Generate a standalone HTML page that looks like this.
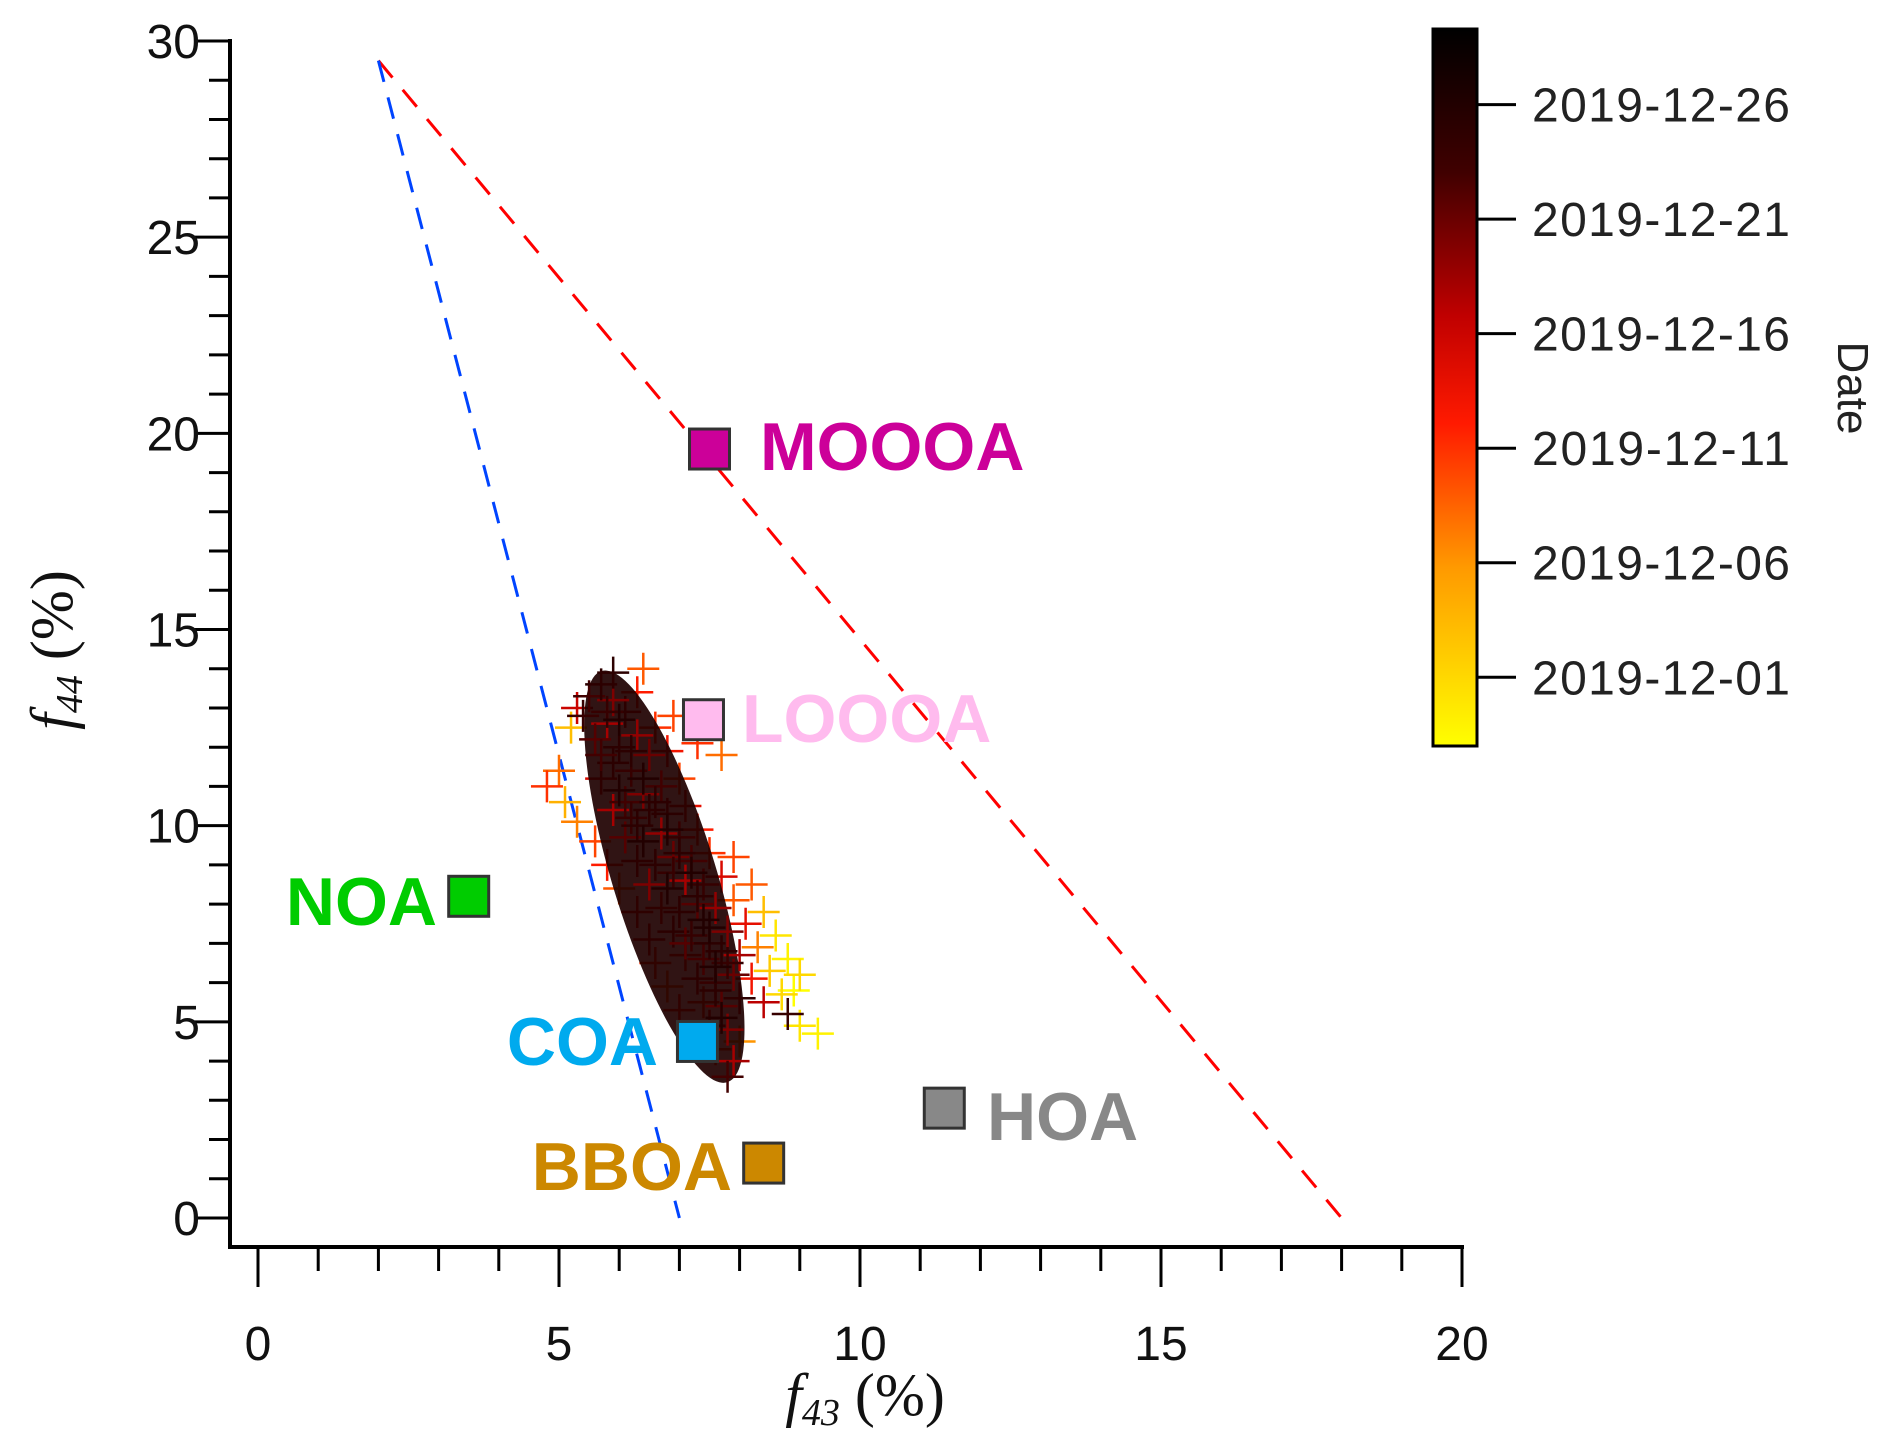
<!DOCTYPE html>
<html><head><meta charset="utf-8"><style>
html,body{margin:0;padding:0;background:#fff}
svg{display:block;font-family:"Liberation Sans",sans-serif}
</style></head><body>
<svg id="chart" width="1892" height="1455" viewBox="0 0 1892 1455" xmlns="http://www.w3.org/2000/svg">
<defs>
<linearGradient id="cmap" x1="0" y1="1" x2="0" y2="0">
<stop offset="0" stop-color="#ffff00"/><stop offset="0.25" stop-color="#ff9900"/><stop offset="0.45" stop-color="#ff1a00"/><stop offset="0.6" stop-color="#c00000"/><stop offset="0.8" stop-color="#400000"/><stop offset="1" stop-color="#000000"/>
</linearGradient>
</defs>
<g id="plot"></g>
</svg>
<script>
const xTicks=[0,5,10,15,20];
const yTicks=[0,5,10,15,20,25,30];
const dateTicks=['2019-12-01','2019-12-06','2019-12-11','2019-12-16','2019-12-21','2019-12-26'];
const dateTickDays=[3,8,13,18,23,28];
const dateMin=0, dateMax=31.3;
const sourceNames=['MOOOA','LOOOA','NOA','COA','BBOA','HOA'];
const sourceX=[7.5,7.4,3.5,7.3,8.4,11.4];
const sourceY=[19.6,12.7,8.2,4.5,1.4,2.8];
const sourceColors=['#cc0099','#ffbbee','#00cc00','#00aaee','#cc8800','#888888'];
const redLineX=[2,18], redLineY=[29.5,0];
const blueLineX=[2,7], blueLineY=[29.5,0];
const ptX=[5.5,5.7,5.9,5.4,5.8,6.1,6.3,5.6,6.0,6.3,6.6,5.9,6.2,6.5,6.8,5.7,6.0,6.4,6.7,7.0,5.9,6.2,6.5,6.8,7.1,6.1,6.4,6.7,7.0,7.3,6.3,6.6,6.9,7.2,7.5,6.5,6.8,7.1,7.4,7.7,6.7,7.0,7.3,7.6,7.9,6.9,7.2,7.5,7.8,8.1,7.1,7.4,7.7,8.0,8.3,7.3,7.6,7.9,8.2,8.5,7.4,7.7,8.0,8.4,8.7,7.5,7.8,8.8,9.0,9.3,7.6,7.9,7.8,8.0,5.0,4.8,5.1,5.3,5.6,5.8,6.0,6.3,6.5,6.6,6.8,7.0,8.6,8.8,9.0,8.9,8.4,8.2,7.9,7.7,7.3,6.9,5.2,5.3,5.9,6.4,6.0,6.2,6.4,6.6,6.8,7.0,7.2,7.3,7.4,7.5,7.6,7.6,7.7,5.8,6.1,6.9,7.1,6.3,7.8,5.7];
const ptY=[13.3,13.6,13.2,12.8,12.6,12.9,13.4,12.2,12.0,12.3,12.5,11.6,11.4,11.8,11.9,11.2,10.9,10.8,11.0,11.2,10.4,10.2,10.4,10.3,10.5,9.7,9.6,9.8,9.7,9.9,9.1,9.0,9.2,9.1,9.3,8.5,8.4,8.6,8.5,8.7,7.9,7.8,8.0,7.9,8.1,7.3,7.2,7.4,7.3,7.5,6.7,6.6,6.8,6.7,6.9,6.1,6.0,6.2,6.1,6.3,5.5,5.4,5.6,5.5,5.7,4.9,4.8,5.2,4.9,4.7,4.3,4.0,3.6,4.5,11.4,11.0,10.6,10.1,9.6,9.0,8.4,7.8,7.1,6.5,5.9,5.3,7.2,6.6,6.2,5.8,7.8,8.5,9.2,11.8,12.1,12.8,12.5,13.0,13.9,14.0,12.7,11.9,11.2,10.6,9.9,9.3,8.8,8.2,7.6,7.0,6.4,5.8,5.1,12.9,10.6,8.8,7.0,10.0,6.5,11.8];
const ptDay=[25,27,22,26,20,18,14,24,27,21,13,19,26,23,15,17,28,22,25,12,20,26,27,19,16,24,28,21,26,14,18,27,23,25,13,22,28,20,26,17,15,27,24,21,11,19,26,28,22,16,14,25,27,20,9,18,26,23,15,4,13,24,27,19,3,17,22,26,2,1,12,20,25,8,10,13,6,9,12,14,11,16,18,13,11,14,2,1,3,0,5,11,12,10,13,12,5,18,27,11,28,27,28,27,28,27,28,27,28,27,28,27,28,26,25,26,24,27,26,25];

const NS='http://www.w3.org/2000/svg';
const g=document.getElementById('plot');
const X0=258, X1=1462, Y0=1218, Y1=41;
const sx=v=>X0+(X1-X0)*v/20;
const sy=v=>Y0+(Y1-Y0)*v/30;
function mk(tag,attrs,parent){const e=document.createElementNS(NS,tag);for(const k in attrs)e.setAttribute(k,attrs[k]);(parent||g).appendChild(e);return e;}
function lerp(a,b,t){return a+(b-a)*t;}
const stops=[[0,[255,255,0]],[0.25,[255,153,0]],[0.45,[255,26,0]],[0.6,[192,0,0]],[0.8,[64,0,0]],[1,[0,0,0]]];
function cmap(d){let t=(d-dateMin)/(dateMax-dateMin);t=Math.max(0,Math.min(1,t));for(let i=1;i<stops.length;i++){if(t<=stops[i][0]){const a=stops[i-1],b=stops[i];const u=(t-a[0])/(b[0]-a[0]);return 'rgb('+[0,1,2].map(k=>Math.round(lerp(a[1][k],b[1][k],u))).join(',')+')';}}return '#000';}

let ax=mk('line',{x1:230,y1:39,x2:230,y2:1249,stroke:'#000','stroke-width':4});

ax=mk('line',{x1:228,y1:1247,x2:1464,y2:1247,stroke:'#000','stroke-width':4});

for(let v=0;v<=30;v++){const major=v%5===0;const t=mk('line',{x1:major?194:209,x2:230,y1:sy(v),y2:sy(v),stroke:'#000','stroke-width':3});
}
for(let v=0;v<=20;v++){const major=v%5===0;const t=mk('line',{x1:sx(v),x2:sx(v),y1:1247,y2:major?1287:1271,stroke:'#000','stroke-width':3});
}
yTicks.forEach(v=>{const t=mk('text',{x:200,y:sy(v)+17,'text-anchor':'end','font-size':48,fill:'#111'});t.textContent=v;
});
xTicks.forEach(v=>{const t=mk('text',{x:sx(v),y:1360,'text-anchor':'middle','font-size':48,fill:'#111'});t.textContent=v;
});
let tt=mk('text',{x:865,y:1415,'text-anchor':'middle','font-size':60,'font-family':'Liberation Serif, serif',fill:'#111'});
tt.innerHTML='<tspan font-style="italic">f</tspan><tspan font-style="italic" font-size="38" dy="10">43</tspan><tspan dy="-10"> (%)</tspan>';

tt=mk('text',{x:0,y:0,'text-anchor':'middle','font-size':60,'font-family':'Liberation Serif, serif',fill:'#111',transform:'translate(72,650) rotate(-90)'});
tt.innerHTML='<tspan font-style="italic">f</tspan><tspan font-style="italic" font-size="38" dy="10">44</tspan><tspan dy="-10"> (%)</tspan>';

let ln=mk('line',{x1:sx(redLineX[0]),y1:sy(redLineY[0]),x2:sx(redLineX[1]),y2:sy(redLineY[1]),stroke:'#ff0000','stroke-width':3,'stroke-dasharray':'22 16'});

ln=mk('line',{x1:sx(blueLineX[0]),y1:sy(blueLineY[0]),x2:sx(blueLineX[1]),y2:sy(blueLineY[1]),stroke:'#0044ff','stroke-width':3,'stroke-dasharray':'22 16'});

const cg=mk('g',{});

const order=ptX.map((_,i)=>i).sort((a,b)=>ptDay[a]-ptDay[b]);
const drawPt=i=>{const x=sx(ptX[i]),y=sy(ptY[i]),s=16;
const p=mk('path',{d:`M${x-s} ${y}H${x+s}M${x} ${y-s}V${y+s}`,stroke:cmap(ptDay[i]),'stroke-width':2.5},cg);
};
order.filter(i=>ptDay[i]<20).forEach(drawPt);
const bcx=sx(6.75), bcy=sy(8.7);
const blob=mk('ellipse',{cx:bcx,cy:bcy,rx:52,ry:215,fill:'#1e0000',opacity:0.92,transform:`rotate(-17 ${bcx} ${bcy})`},cg);

order.filter(i=>ptDay[i]>=20).forEach(drawPt);
const labelPos=[[1,760,470],[1,742,742],[-1,437,925],[-1,658,1065],[-1,732,1190],[1,987,1140]];
sourceNames.forEach((n,i)=>{const x=sx(sourceX[i]),y=sy(sourceY[i]);
const r=mk('rect',{x:x-20,y:y-20,width:40,height:40,fill:sourceColors[i],stroke:'#333','stroke-width':3});

const lp=labelPos[i];
const t=mk('text',{x:lp[1],y:lp[2],'text-anchor':lp[0]>0?'start':'end','font-size':68,'font-weight':'bold',fill:sourceColors[i]});t.textContent=n;
});
const CB0=746, CB1=29;
const cy=d=>CB0+(CB1-CB0)*(d-dateMin)/(dateMax-dateMin);
const cb=mk('rect',{x:1433,y:CB1,width:44,height:CB0-CB1,fill:'url(#cmap)',stroke:'#000','stroke-width':3});

dateTicks.forEach((lab,i)=>{const y=cy(dateTickDays[i]);
const t=mk('line',{x1:1477,x2:1516,y1:y,y2:y,stroke:'#000','stroke-width':3});

const tx=mk('text',{x:1532,y:y+17,'font-size':48,fill:'#222',textLength:258});tx.textContent=lab;
});
const dl=mk('text',{x:0,y:0,'text-anchor':'middle','font-size':44,fill:'#222',transform:'translate(1838,388) rotate(90)'});dl.textContent='Date';

</script>
</body></html>
